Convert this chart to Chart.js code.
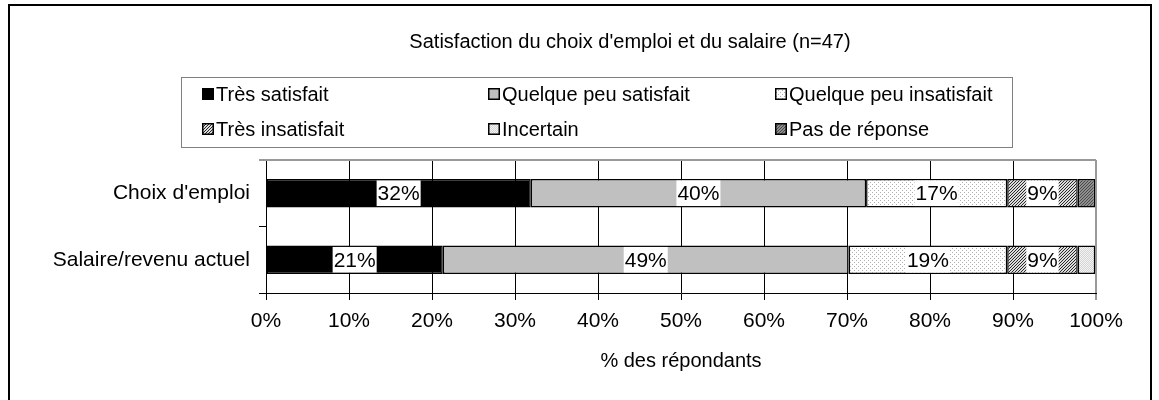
<!DOCTYPE html>
<html lang="fr">
<head>
<meta charset="utf-8">
<script src="https://cdn.jsdelivr.net/npm/chart.js@4.4.1/dist/chart.umd.min.js"></script>
<style>
  html, body { margin: 0; padding: 0; background: #fff; }
  #wrap { width: 1159px; height: 400px; }
</style>
</head>
<body>
<div id="wrap"><canvas id="satisfactionChart" width="1159" height="400"></canvas></div>
<script>
// Réponses en % des répondants (n=47)
const categories = ["Choix d'emploi", 'Salaire/revenu actuel'];
const reponses = ['Très satisfait', 'Quelque peu satisfait', 'Quelque peu insatisfait',
                  'Très insatisfait', 'Incertain', 'Pas de réponse'];
const tresSatisfait = [31.9, 21.3];
const quelquePeuSatisfait = [40.4, 48.9];
const quelquePeuInsatisfait = [17.0, 19.1];
const tresInsatisfait = [8.5, 8.5];
const incertain = [0, 2.1];
const pasDeReponse = [2.1, 0];
const xTicks = [0, 10, 20, 30, 40, 50, 60, 70, 80, 90, 100];

const police = '"Liberation Sans", Arial, sans-serif';
Chart.defaults.font.family = police;
Chart.defaults.color = '#000';

// Petits motifs façon Excel (pointillés, hachures)
function motif(taille, dessin) {
    const c = document.createElement('canvas');
    c.width = taille; c.height = taille;
    const g = c.getContext('2d');
    dessin(g);
    return g.createPattern(c, 'repeat');
}

function diagonale(taille, fond, trait) {
    return motif(taille, g => {
        g.fillStyle = fond; g.fillRect(0, 0, taille, taille);
        g.fillStyle = trait;
        for (let i = 0; i < taille; i++) g.fillRect(i, taille - 1 - i, 1, 1);
    });
}

const pointsClairs = motif(4, g => {
    g.fillStyle = '#ffffff'; g.fillRect(0, 0, 4, 4);
    g.fillStyle = '#b0b0b0'; g.fillRect(0, 0, 1, 1); g.fillRect(2, 2, 1, 1);
});
const hachures = diagonale(3, '#dcdcdc', '#2a2a2a');
const grisPointille = motif(2, g => {
    g.fillStyle = '#d4d4d4'; g.fillRect(0, 0, 2, 2);
    g.fillStyle = '#f4f4f4'; g.fillRect(0, 0, 1, 1); g.fillRect(1, 1, 1, 1);
});
const grisFonce = diagonale(3, '#8e8e8e', '#4a4a4a');

const series = [tresSatisfait, quelquePeuSatisfait, quelquePeuInsatisfait, tresInsatisfait, incertain, pasDeReponse];
const remplissages = ['#000000', '#c0c0c0', pointsClairs, hachures, grisPointille, grisFonce];

// Cadre, titre et légende encadrée
const decor = {
    id: 'decor',
    beforeDraw(chart) {
        const ctx = chart.ctx;
        ctx.save();
        ctx.fillStyle = '#fff';
        ctx.fillRect(0, 0, chart.width, chart.height);
        ctx.strokeStyle = '#000';
        ctx.lineWidth = 2;
        ctx.strokeRect(9, 5, 1142, 420);

        ctx.fillStyle = '#000';
        ctx.font = '20px ' + police;
        ctx.textAlign = 'center';
        ctx.textBaseline = 'middle';
        ctx.fillText("Satisfaction du choix d'emploi et du salaire (n=47)", 630, 42);

        ctx.strokeStyle = '#808080';
        ctx.lineWidth = 1;
        ctx.strokeRect(181.5, 77.5, 831, 70);

        const colonnes = [202, 488, 775];
        const lignes = [94, 129];
        ctx.textAlign = 'left';
        reponses.forEach((nom, i) => {
            const x = colonnes[i % 3], y = lignes[Math.floor(i / 3)];
            ctx.fillStyle = remplissages[i];
            ctx.fillRect(x, y - 6, 12, 12);
            ctx.strokeStyle = '#000';
            ctx.lineWidth = 1.5;
            ctx.strokeRect(x + 0.75, y - 5.25, 10.5, 10.5);
            ctx.fillStyle = '#000';
            ctx.fillText(nom, x + 14, y + 1);
        });
        ctx.restore();
    },
    beforeDatasetsDraw(chart) {
        const { ctx, chartArea: a } = chart;
        ctx.save();
        ctx.strokeStyle = '#999';
        ctx.lineWidth = 2;
        ctx.beginPath();
        ctx.moveTo(a.left - 7, a.top);
        ctx.lineTo(a.right, a.top);
        ctx.stroke();
        ctx.restore();
    }
};

// Étiquettes de pourcentage sur fond blanc
const etiquettes = {
    id: 'etiquettes',
    afterDatasetsDraw(chart) {
        const ctx = chart.ctx;
        ctx.save();
        ctx.font = '21px ' + police;
        ctx.textAlign = 'center';
        ctx.textBaseline = 'middle';
        chart.data.datasets.forEach((ds, i) => {
            chart.getDatasetMeta(i).data.forEach((bar, j) => {
                const v = ds.data[j];
                if (v < 5) return;
                const txt = Math.round(v) + '%';
                const w = ctx.measureText(txt).width;
                const cx = (bar.x + bar.base) / 2;
                ctx.fillStyle = '#fff';
                ctx.fillRect(cx - w / 2 - 1, bar.y - bar.height / 2 + 1.5, w + 2, bar.height - 3);
                ctx.fillStyle = '#000';
                ctx.fillText(txt, cx, bar.y + 1);
            });
        });
        ctx.restore();
    }
};

new Chart(document.getElementById('satisfactionChart'), {
    type: 'bar',
    data: {
        labels: categories,
        datasets: series.map((valeurs, i) => ({
            label: reponses[i],
            data: valeurs,
            backgroundColor: remplissages[i],
            borderColor: '#000',
            borderWidth: 1.5,
            borderSkipped: false,
            categoryPercentage: 1,
            barPercentage: 0.43
        }))
    },
    options: {
        indexAxis: 'y',
        responsive: false,
        animation: false,
        layout: { padding: { top: 160, right: 63, bottom: 0, left: 0 } },
        scales: {
            x: {
                stacked: true,
                min: 0,
                max: 100,
                afterBuildTicks: s => { s.ticks = xTicks.map(v => ({ value: v })); },
                afterFit: s => { s.height = 107; },
                ticks: { callback: v => v + '%', font: { size: 21 }, padding: 9 },
                grid: {
                    color: c => (c.tick && c.tick.value === 100 ? '#999' : '#000'),
                    lineWidth: c => (c.tick && c.tick.value === 100 ? 2 : 1),
                    tickLength: 7
                },
                border: { color: '#000', width: 1 },
                title: {
                    display: true,
                    text: '% des répondants',
                    font: { size: 20 },
                    padding: { top: 0, bottom: 27 }
                }
            },
            y: {
                stacked: true,
                afterFit: s => { s.width = 266; },
                ticks: { font: { size: 21 }, padding: 9 },
                grid: { drawOnChartArea: false, tickLength: 7, color: '#000' },
                border: { color: '#000', width: 1 }
            }
        },
        plugins: {
            legend: { display: false },
            title: { display: false },
            tooltip: { enabled: false }
        }
    },
    plugins: [decor, etiquettes]
});
</script>
</body>
</html>
